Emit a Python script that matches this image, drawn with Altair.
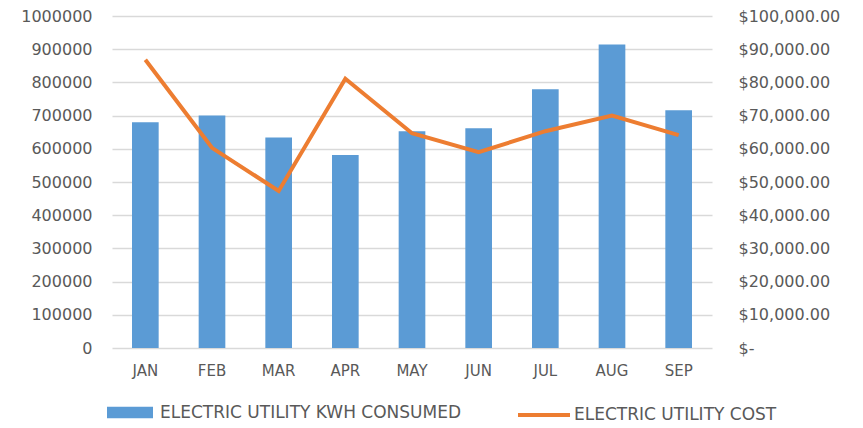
import altair as alt
import pandas as pd

months = ["JAN", "FEB", "MAR", "APR", "MAY", "JUN", "JUL", "AUG", "SEP"]
kwh = [680000, 700000, 634000, 581000, 653000, 662000, 779000, 914000, 716000]
cost = [86800, 60300, 47300, 81100, 64700, 59000, 65300, 70000, 64100]
kwh_label = "ELECTRIC UTILITY KWH CONSUMED"
cost_label = "ELECTRIC UTILITY COST"

df = pd.DataFrame({
    "month": months,
    "kwh": kwh,
    "cost": cost,
    "s_kwh": [kwh_label] * len(months),
    "s_cost": [cost_label] * len(months),
})

FONT = "DejaVu Sans"
GRAY = "#595959"

x = alt.X("month:N", sort=months, title=None,
          scale=alt.Scale(paddingInner=0.6, paddingOuter=0.3),
          axis=alt.Axis(labelAngle=0, labelFontSize=15, labelColor=GRAY, labelFont=FONT,
                        ticks=False, domain=False, labelPadding=15))

bars = alt.Chart(df).mark_bar(color="#5B9BD5").encode(
    x=x,
    y=alt.Y("kwh:Q", title=None,
            scale=alt.Scale(domain=[0, 1000000], nice=False),
            axis=alt.Axis(values=list(range(0, 1000001, 100000)), format="d",
                          labelFontSize=16, labelColor=GRAY, labelFont=FONT,
                          ticks=False, domain=False, labelPadding=20,
                          gridColor="#D9D9D9", gridWidth=1.5)),
    fill=alt.Fill("s_kwh:N", title=None,
                  scale=alt.Scale(domain=[kwh_label], range=["#5B9BD5"]),
                  legend=alt.Legend(orient="none", legendX=5.5, legendY=384,
                                    symbolType="M-2,-0.5H2V0.5H-2Z", symbolSize=529,
                                    labelFontSize=17, labelColor=GRAY, labelFont=FONT,
                                    labelOffset=17.5, labelLimit=0)),
)

line = alt.Chart(df).mark_line(strokeWidth=4, strokeJoin="miter").encode(
    x=x,
    y=alt.Y("cost:Q", title=None,
            scale=alt.Scale(domain=[0, 100000], nice=False),
            axis=alt.Axis(orient="right", values=list(range(0, 100001, 10000)),
                          labelExpr="datum.value == 0 ? '$-' : format(datum.value, '$,.2f')",
                          labelFontSize=16, labelColor=GRAY, labelFont=FONT,
                          ticks=False, domain=False, grid=False, labelPadding=26)),
    stroke=alt.Stroke("s_cost:N", title=None,
                      scale=alt.Scale(domain=[cost_label], range=["#ED7D31"]),
                      legend=alt.Legend(orient="none", legendX=417, legendY=384,
                                        symbolType="M-2,0H2", symbolSize=676,
                                        symbolStrokeWidth=4,
                                        labelFontSize=17, labelColor=GRAY, labelFont=FONT,
                                        labelOffset=15, labelLimit=0)),
)

chart = alt.layer(bars, line).resolve_scale(y="independent").properties(
    width=600, height=332,
    padding={"left": 12, "top": 0, "right": 5, "bottom": 0},
).configure(background="white").configure_view(stroke=None)

chart.save("out.html", embed_options={"renderer": "svg", "actions": False})
